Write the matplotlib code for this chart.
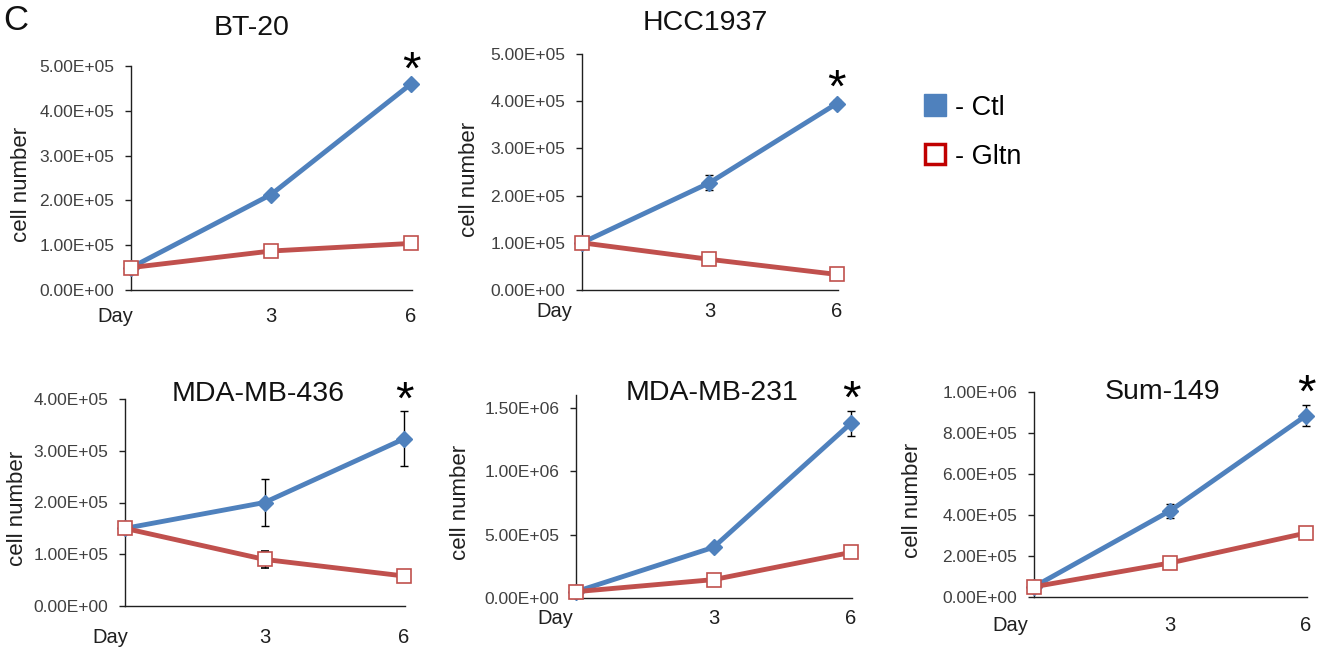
import matplotlib
matplotlib.use("Agg")
import matplotlib.pyplot as plt
from matplotlib.lines import Line2D
from matplotlib.ticker import FuncFormatter
import matplotlib.transforms as mtransforms

plt.rcParams['font.family'] = ['Liberation Sans', 'DejaVu Sans']

# ---------------- data ----------------
day_labels = ['Day', '3', '6']
panel_names = ['BT-20', 'HCC1937', 'MDA-MB-436', 'MDA-MB-231', 'Sum-149']

bt20_ctl = [5.0e4, 2.13e5, 4.60e5]
bt20_ctl_err = [3e3, 5e3, 6e3]
bt20_gltn = [5.0e4, 8.7e4, 1.04e5]
bt20_gltn_err = [2e3, 3e3, 1.1e4]

hcc1937_ctl = [1.0e5, 2.27e5, 3.95e5]
hcc1937_ctl_err = [3e3, 1.6e4, 8e3]
hcc1937_gltn = [1.0e5, 6.5e4, 3.3e4]
hcc1937_gltn_err = [2e3, 8e3, 4e3]

mb436_ctl = [1.5e5, 2.0e5, 3.23e5]
mb436_ctl_err = [3e3, 4.5e4, 5.3e4]
mb436_gltn = [1.5e5, 9.0e4, 5.8e4]
mb436_gltn_err = [3e3, 1.6e4, 3e3]

mb231_ctl = [5.0e4, 4.0e5, 1.38e6]
mb231_ctl_err = [5e3, 2.5e4, 1.0e5]
mb231_gltn = [5.0e4, 1.45e5, 3.6e5]
mb231_gltn_err = [5e3, 3.7e4, 4.5e4]

sum149_ctl = [5.0e4, 4.2e5, 8.85e5]
sum149_ctl_err = [5e3, 3.4e4, 5.2e4]
sum149_gltn = [5.0e4, 1.66e5, 3.12e5]
sum149_gltn_err = [3e3, 5e3, 1.8e4]

ctl_series = [bt20_ctl, hcc1937_ctl, mb436_ctl, mb231_ctl, sum149_ctl]
ctl_errs = [bt20_ctl_err, hcc1937_ctl_err, mb436_ctl_err, mb231_ctl_err, sum149_ctl_err]
gltn_series = [bt20_gltn, hcc1937_gltn, mb436_gltn, mb231_gltn, sum149_gltn]
gltn_errs = [bt20_gltn_err, hcc1937_gltn_err, mb436_gltn_err, mb231_gltn_err, sum149_gltn_err]

y_max = [5e5, 5e5, 4e5, 1.6e6, 1e6]
y_step = [1e5, 1e5, 1e5, 5e5, 2e5]
y_top_tick = [5e5, 5e5, 4e5, 1.5e6, 1e6]

# ---------------- layout (pixels) ----------------
W, H = 1319, 651
# left, right, top, bottom in pixels
boxes = [
    (131, 412.4, 66, 290),
    (582, 838.0, 54, 290),
    (125, 405.4, 399, 606),
    (576, 852.4, 395.3, 598),
    (1034, 1307.4, 392, 597),
]
title_pos = [(252, 28), (705, 23), (258, 394), (712, 393), (1162, 392)]
ylabel_x = [32, 480, 28, 471, 923]
xtick_pad = [12, 8.5, 16, 8, 14]
day_dx = [2, -10, 3, -3, -6]

BLUE = '#4F81BD'
RED = '#C0504D'
TICK_COL = '#404040'

fig = plt.figure(figsize=(W / 100, H / 100), dpi=100)

x = [0, 1, 2]

def ysci(v, pos):
    return f"{v:.2E}"

for i in range(5):
    l, r, t, b = boxes[i]
    ax = fig.add_axes([l / W, 1 - b / H, (r - l) / W, (b - t) / H])
    ax.set_xlim(0, 2.01)
    ax.set_ylim(0, y_max[i])

    ax.errorbar(x, ctl_series[i], yerr=ctl_errs[i], color=BLUE, lw=3.5,
                marker='D', markersize=8.5, markerfacecolor=BLUE, markeredgecolor=BLUE,
                ecolor='black', elinewidth=1.0, capsize=3, capthick=1.0,
                clip_on=False, zorder=3)
    ax.errorbar(x, gltn_series[i], yerr=gltn_errs[i], color=RED, lw=3.5,
                marker='s', markersize=9.5, markerfacecolor='white', markeredgecolor=RED,
                markeredgewidth=1.2, ecolor='black', elinewidth=1.0, capsize=3, capthick=1.0,
                clip_on=False, zorder=4)

    # significance asterisk above day 6
    top = ctl_series[i][2] + ctl_errs[i][2]
    ax.annotate('*', xy=(2, top), xytext=(0, -2), textcoords='offset pixels',
                ha='center', va='baseline', fontsize=34, color='black',
                annotation_clip=False)

    # spines
    for s in ['top', 'right']:
        ax.spines[s].set_visible(False)
    ax.spines['left'].set_color('#202020')
    ax.spines['bottom'].set_color('#202020')
    ax.spines['left'].set_linewidth(1.0)
    ax.spines['bottom'].set_linewidth(1.0)

    ticks = []
    v = 0.0
    while v <= y_top_tick[i] + 1:
        ticks.append(v)
        v += y_step[i]
    ax.set_yticks(ticks)
    ax.yaxis.set_major_formatter(FuncFormatter(ysci))
    ax.tick_params(axis='y', direction='out', length=4, width=1, colors='#202020',
                   labelcolor=TICK_COL, labelsize=12.5, pad=8)

    ax.set_xticks(x)
    ax.set_xticklabels(day_labels)
    ax.tick_params(axis='x', length=0, labelsize=14.5, labelcolor='#202020', pad=xtick_pad[i])
    first = ax.get_xticklabels()[0]
    first.set_ha('right')
    first.set_transform(first.get_transform() +
                        mtransforms.Affine2D().translate(day_dx[i], 0))

    ax.set_ylabel('cell number', fontsize=16, color='#202020')
    ax.yaxis.set_label_coords((ylabel_x[i] - l) / (r - l), 0.47)

    tx, ty = title_pos[i]
    fig.text(tx / W, 1 - ty / H, panel_names[i], ha='center', va='center',
             fontsize=20.5, color='#111111')

# panel letter
fig.text(3 / W, 1 - 20 / H, 'C', ha='left', va='center', fontsize=25, color='#111111')

# legend
handles = [
    Line2D([], [], linestyle='none', marker='s', markersize=16,
           markerfacecolor=BLUE, markeredgecolor=BLUE),
    Line2D([], [], linestyle='none', marker='s', markersize=14,
           markerfacecolor='white', markeredgecolor='#C00000', markeredgewidth=2.5),
]
fig.legend(handles, ['- Ctl', '- Gltn'], loc='upper left',
           bbox_to_anchor=(908 / W, 1 - 81 / H), frameon=False,
           fontsize=19.5, handlelength=1.0, handletextpad=0.25, labelspacing=0.85,
           borderpad=0)

fig.savefig('out.png', dpi=100)
